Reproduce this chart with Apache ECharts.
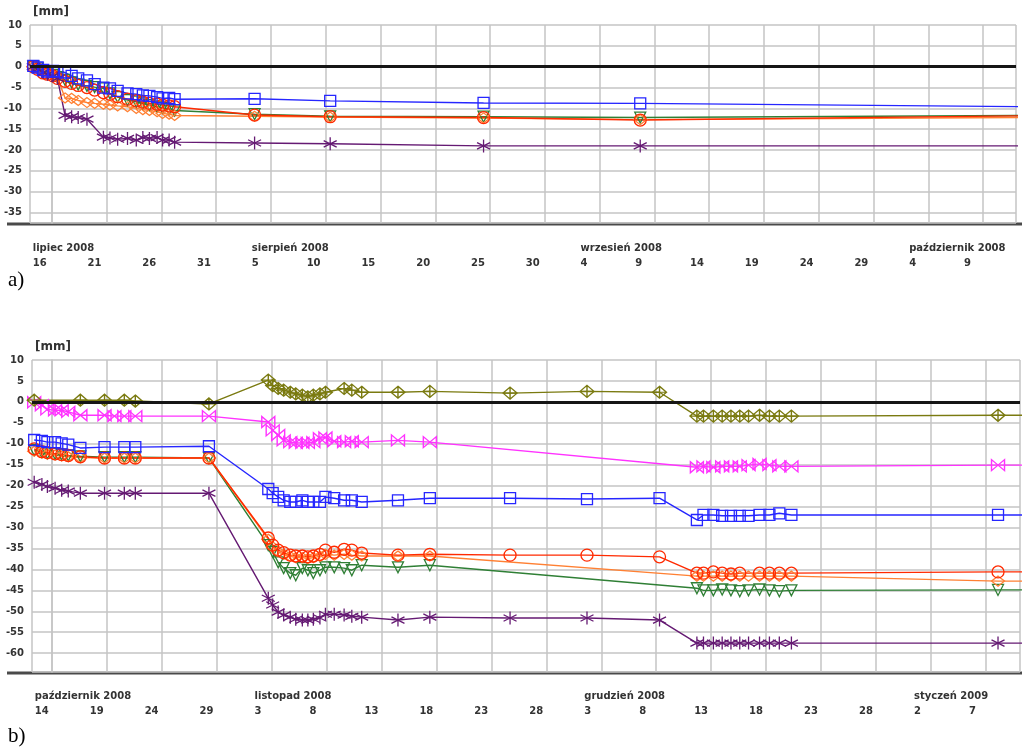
<!DOCTYPE html>
<html lang="pl">
<head>
  <meta charset="utf-8">
</head>
<body style="margin: 0">
  <div id="container" style="width: 1022px; height: 755px"></div>

  <script type="text/javascript" src="https://cdn.jsdelivr.net/npm/echarts@6/dist/echarts.min.js"></script>

  <script type="text/javascript">
    // ---------- a) lipiec - październik 2008, x = days from 16 July 2008 ----------
    var daysA = [-1.7, -1.3, -0.8, -0.4, 0.1, 0.5, 1.2, 1.8, 2.4, 3.2, 3.9, 4.7, 5.3, 6.0, 6.9,
                 7.7, 8.3, 8.9, 9.6, 10.1, 10.7, 11.2, 18.5, 25.4, 39.4, 53.7, 88.5];
    var blueA   = [0.2, -0.2, -0.8, -1.2, -1.0, -1.2, -1.4, -2.2, -2.8, -3.3, -4.2, -5.0, -5.2, -5.8, -6.4,
                   -6.6, -6.9, -7.0, -7.3, -7.6, -7.5, -7.8, -7.7, -8.2, -8.7, -8.8, -9.6];
    var redA    = [0, -0.6, -1.5, -1.8, -2.2, -2.8, -3.5, -4.0, -4.5, -5.0, -5.6, -6.2, -6.6, -7.2, -7.8,
                   -8.2, -8.5, -8.8, -9.0, -9.2, -9.4, -9.6, -11.6, -12.0, -12.2, -12.8, -11.8];
    var orangeA = [0, -0.5, -1.0, -1.5, -2.0, -2.6, -7.5, -7.6, -8.1, -8.6, -8.8, -9.0, -9.2, -9.4, -9.6,
                   -10.0, -10.3, -10.5, -10.8, -11.2, -11.4, -11.7, -11.9, -12.1, -12.3, -12.7, -12.2];
    var greenA  = [0, -0.4, -1.2, -1.6, -2.0, -2.5, -3.2, -3.8, -4.3, -4.6, -4.9, -5.2, -6.4, -7.3, -8.0,
                   -8.4, -8.8, -9.2, -9.6, -9.9, -10.2, -10.5, -11.4, -11.9, -12.0, -12.2, -11.7];
    var purpleA = [0, -0.6, -1.4, -1.8, -2.2, -2.8, -11.7, -12.0, -12.2, -12.6, null, -16.9, -17.1, -17.4, -17.2,
                   -17.6, -17.0, -17.2, -17.0, -17.6, -17.6, -18.1, -18.3, -18.5, -19.0, -19.0, -19.0];
    var dayLabelsA = ['16', '21', '26', '31', '5', '10', '15', '20', '25', '30', '4', '9', '14', '19', '24', '29', '4', '9'];
    var monthLabelsA = ['lipiec 2008', '', '', '', 'sierpień 2008', '', '', '', '', '', 'wrzesień 2008', '', '', '', '', '', 'październik 2008', ''];

    // ---------- b) październik 2008 - styczeń 2009, x = days from 14 October 2008 ----------
    var daysB = [-1.6, -0.9, -0.4, 0.3, 0.9, 1.5, 2.6, 4.8, 5.7, 6.6, 7.6, 14.3,
                 19.7, 20.1, 20.6, 21.1, 21.7, 22.2, 22.8, 23.3, 23.8, 24.4, 24.9, 25.7, 26.6, 27.3, 28.2, 31.5, 34.4, 41.7, 48.7, 55.3,
                 58.7, 59.3, 60.2, 61.0, 61.8, 62.6, 63.4, 64.4, 65.3, 66.2, 67.3, 86.1, 88.5];
    var oliveB   = [0.4, null, null, null, null, null, 0.4, 0.4, null, 0.4, 0.2, -0.5,
                    5.2, 3.9, 3.2, 2.8, 2.3, 1.9, 1.6, 1.2, 1.6, 1.9, 2.3, null, 3.2, 2.8, 2.3, 2.3, 2.5, 2.1, 2.5, 2.3,
                    -3.4, -3.4, -3.4, -3.4, -3.4, -3.4, -3.4, -3.2, -3.4, -3.4, -3.4, -3.2, -3.2];
    var magentaB = [-0.1, -0.8, -1.8, -2.0, -2.0, -2.4, -3.2, -3.2, -3.4, -3.4, -3.4, -3.4,
                    -4.8, -6.8, -7.9, -9.2, -9.6, -9.8, -9.8, -9.8, -9.6, -8.7, -8.5, -9.4, -9.6, -9.4, -9.6, -9.2, -9.6, null, null, null,
                    -15.6, -15.4, -15.6, -15.4, -15.4, -15.4, -15.1, -14.8, -15.1, -15.4, -15.4, -15.1, -15.1];
    var blueB    = [-9.1, -9.3, -9.6, -9.6, -9.9, -10.2, -11.0, -10.8, null, -10.8, -10.8, -10.6,
                    -20.8, -21.8, -22.7, -23.5, -23.9, -23.9, -23.5, -23.9, -23.9, -23.9, -22.7, -23.0, -23.5, -23.5, -23.9, -23.5, -23.0, -23.0, -23.2, -23.0,
                    -28.2, -27.0, -27.0, -27.2, -27.2, -27.2, -27.2, -27.0, -27.0, -26.6, -27.0, -27.0, -27.0];
    var redB     = [-11.2, -11.9, -12.1, -12.4, -12.6, -12.8, -13.1, -13.4, null, -13.4, -13.4, -13.4,
                    -32.5, -34.2, -35.4, -36.0, -36.6, -36.8, -36.8, -37.0, -36.8, -36.4, -35.4, -35.9, -35.2, -35.4, -36.1, -36.6, -36.4, -36.6, -36.6, -37.0,
                    -40.9, -40.9, -40.6, -40.9, -41.1, -40.9, null, -40.9, -40.9, -40.9, -40.9, -40.6, -40.6];
    var orangeB  = [-11.8, -12.2, -12.5, -12.7, -12.9, -13.1, -13.3, -13.4, null, -13.4, -13.4, -13.4,
                    -32.8, -34.6, -35.8, -36.4, -36.9, -37.2, -37.2, -37.4, -37.2, -36.9, -36.4, -36.6, -36.4, -36.6, -36.8, -36.8, -36.8, null, null, null,
                    -41.6, -41.6, -41.6, -41.6, -41.6, -41.6, -41.6, -41.6, -41.6, -41.6, -41.6, -42.8, -42.8];
    var greenB   = [-11.5, -12.0, -12.3, -12.4, -12.6, -12.8, -13.0, -13.2, null, -13.2, -13.2, -13.4,
                    -34.2, -35.8, -38.3, -39.7, -40.9, -41.4, -39.7, -40.2, -40.9, -40.2, -39.5, -39.5, -39.7, -40.2, -39.0, -39.5, -39.0, null, null, null,
                    -44.5, -45.0, -45.0, -44.8, -45.0, -45.2, -45.0, -44.8, -45.0, -45.2, -45.0, -44.9, -44.9];
    var purpleB  = [-19.2, -19.7, -20.2, -20.6, -21.1, -21.3, -21.8, -21.8, null, -21.8, -21.8, -21.8,
                    -46.9, -48.5, -50.2, -50.9, -51.4, -51.9, -52.1, -52.1, -51.9, -51.6, -50.7, -50.7, -50.9, -51.2, -51.4, -52.1, -51.4, -51.6, -51.6, -52.1,
                    -57.6, -57.6, -57.6, -57.6, -57.6, -57.6, -57.6, -57.6, -57.6, -57.6, -57.6, -57.6, -57.6];
    var dayLabelsB = ['14', '19', '24', '29', '3', '8', '13', '18', '23', '28', '3', '8', '13', '18', '23', '28', '2', '7'];
    var monthLabelsB = ['październik 2008', '', '', '', 'listopad 2008', '', '', '', '', '', 'grudzień 2008', '', '', '', '', '', 'styczeń 2009', ''];

    // marker look per series
    var ASTERISK = 'path://M10,0 L10,20 M1.34,5 L18.66,15 M1.34,15 L18.66,5';
    var DIAMOND_CROSS = 'path://M10,0 L20,10 L10,20 L0,10 Z M10,0 L10,20 M0,10 L20,10';
    var BOWTIE = 'path://M0,0 L0,20 L20,0 L20,20 Z';
    var look = {
      blue:    { color: '#2626ff', symbol: 'rect', size: 11 },
      red:     { color: '#ff2a00', symbol: 'circle', size: 12 },
      orange:  { color: '#ff8033', symbol: 'diamond', size: [13, 10] },
      green:   { color: '#2f7f35', symbol: 'triangle', size: 11, rotate: 180 },
      purple:  { color: '#651a73', symbol: ASTERISK, size: 13 },
      olive:   { color: '#7a7a10', symbol: DIAMOND_CROSS, size: [14, 12] },
      magenta: { color: '#ff33ff', symbol: BOWTIE, size: [13, 11] }
    };

    var gridColor = '#c4c4c4';
    var textStyle = { color: '#333', fontFamily: 'DejaVu Sans', fontWeight: 'bold', fontSize: 10 };

    function series(idx, xs, ys, st) {
      var data = [];
      for (var i = 0; i < xs.length; i++) {
        if (ys[i] !== null) data.push([xs[i], ys[i]]);
      }
      return {
        type: 'line',
        xAxisIndex: idx,
        yAxisIndex: idx,
        data: data,
        symbol: st.symbol,
        symbolSize: st.size,
        symbolRotate: st.rotate || 0,
        showAllSymbol: true,
        lineStyle: { color: st.color, width: 1.4 },
        itemStyle: { color: 'rgba(0,0,0,0)', borderColor: st.color, borderWidth: 1.3 },
        emphasis: { disabled: true },
        z: 3
      };
    }

    function zeroLine(idx) {
      return {
        type: 'line',
        xAxisIndex: idx,
        yAxisIndex: idx,
        data: [],
        z: 2,
        markLine: {
          silent: true,
          symbol: 'none',
          label: { show: false },
          lineStyle: { color: '#161616', width: 3, type: 'solid' },
          data: [{ yAxis: 0 }]
        }
      };
    }

    // day numbers (with the grid lines) or month names (labels only)
    function xAxis(idx, min, max, shift, labels, margin, withGrid) {
      var pos = [];
      for (var k = 0; k < labels.length; k++) {
        if (labels[k]) pos.push(5 * k - shift);
      }
      return {
        type: 'value',
        gridIndex: idx,
        position: 'bottom',
        min: min,
        max: max,
        minInterval: 5,
        maxInterval: 5,
        axisLine: { show: false },
        axisTick: { show: false },
        splitLine: { show: withGrid, lineStyle: { color: gridColor, width: 1.5 } },
        axisLabel: Object.assign({
          customValues: pos,
          showMinLabel: true,
          showMaxLabel: true,
          align: 'left',
          verticalAlign: 'top',
          lineHeight: 12,
          margin: margin,
          formatter: function (v) {
            return labels[Math.round((v + shift) / 5)] || '';
          }
        }, textStyle)
      };
    }

    function yAxis(idx, min) {
      return {
        type: 'value',
        gridIndex: idx,
        min: min,
        max: 10,
        minInterval: 5,
        maxInterval: 5,
        axisLine: { show: true, lineStyle: { color: gridColor, width: 1.5 } },
        axisTick: { show: false },
        splitLine: { show: true, lineStyle: { color: gridColor, width: 1.5 } },
        axisLabel: Object.assign({
          margin: 8,
          formatter: function (v) { return v % 5 === 0 ? String(v) : ''; }
        }, textStyle)
      };
    }

    var unitStyle = { text: '[mm]', font: 'bold 12px "DejaVu Sans"', fill: '#333' };

    var chart = echarts.init(document.getElementById('container'), null, { renderer: 'canvas' });

    var option = {
      animation: false,
      backgroundColor: '#fff',
      grid: [
        { left: 30, right: 6, top: 25, height: 198 },
        { left: 32, right: 2, top: 360, height: 312 }
      ],
      xAxis: [
        xAxis(0, -2, 88, 1.75, dayLabelsA, 34, true),
        xAxis(1, -1.8, 88.1, 1.55, dayLabelsB, 33, true),
        xAxis(0, -2, 88, 1.75, monthLabelsA, 19, false),
        xAxis(1, -1.8, 88.1, 1.55, monthLabelsB, 18, false)
      ],
      yAxis: [yAxis(0, -37.5), yAxis(1, -64.5)],
      graphic: [
        { type: 'line', shape: { x1: 7, y1: 224, x2: 1022, y2: 224 }, style: { stroke: '#4a4a4a', lineWidth: 3 } },
        { type: 'line', shape: { x1: 7, y1: 673, x2: 1022, y2: 673 }, style: { stroke: '#4a4a4a', lineWidth: 3 } },
        { type: 'text', left: 33, top: 6, style: unitStyle },
        { type: 'text', left: 35, top: 341, style: unitStyle },
        { type: 'text', left: 8, top: 270, style: { text: 'a)', font: '21px "Liberation Serif"', fill: '#000' } },
        { type: 'text', left: 8, top: 726, style: { text: 'b)', font: '21px "Liberation Serif"', fill: '#000' } }
      ],
      series: [
        zeroLine(0),
        series(0, daysA, greenA, look.green),
        series(0, daysA, orangeA, look.orange),
        series(0, daysA, redA, look.red),
        series(0, daysA, purpleA, look.purple),
        series(0, daysA, blueA, look.blue),
        zeroLine(1),
        series(1, daysB, greenB, look.green),
        series(1, daysB, orangeB, look.orange),
        series(1, daysB, redB, look.red),
        series(1, daysB, purpleB, look.purple),
        series(1, daysB, blueB, look.blue),
        series(1, daysB, magentaB, look.magenta),
        series(1, daysB, oliveB, look.olive)
      ]
    };

    chart.setOption(option);
    window.addEventListener('resize', chart.resize);
  </script>
</body>
</html>
